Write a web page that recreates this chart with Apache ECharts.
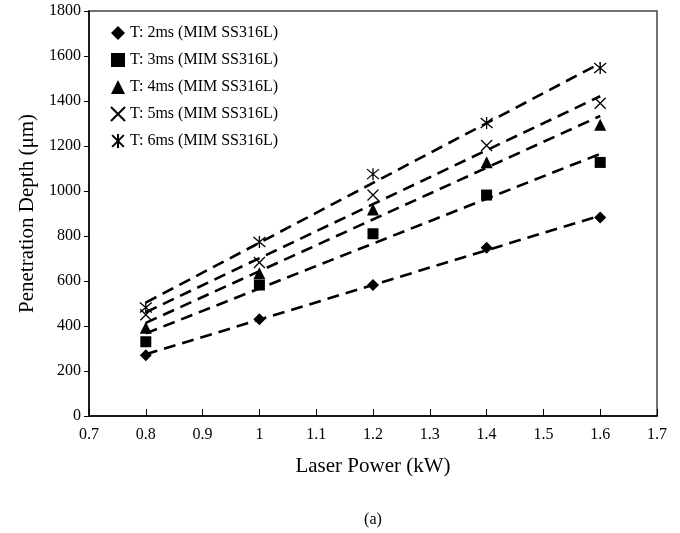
<!DOCTYPE html>
<html>
<head>
<meta charset="utf-8">
<script src="https://cdn.jsdelivr.net/npm/echarts@6/dist/echarts.min.js"></script>
<style>
html,body{margin:0;padding:0;background:#fff;}
#chart{width:680px;height:533px;}
</style>
</head>
<body>
<div id="chart"></div>
<script>
// Laser power (kW)
var laserPower = [0.8, 1.0, 1.2, 1.4, 1.6];
// Penetration depth (µm) for each pulse duration
var depthT2 = [270, 430, 582, 748, 882];
var depthT3 = [330, 582, 810, 982, 1127];
var depthT4 = [392, 635, 918, 1128, 1295];
var depthT5 = [450, 682, 982, 1202, 1390];
var depthT6 = [482, 773, 1075, 1302, 1547];
var seriesNames = [
  'T: 2ms (MIM SS316L)',
  'T: 3ms (MIM SS316L)',
  'T: 4ms (MIM SS316L)',
  'T: 5ms (MIM SS316L)',
  'T: 6ms (MIM SS316L)'
];
var xTicks = [0.7, 0.8, 0.9, 1, 1.1, 1.2, 1.3, 1.4, 1.5, 1.6, 1.7];
var yTicks = [0, 200, 400, 600, 800, 1000, 1200, 1400, 1600, 1800];

var allDepths = [depthT2, depthT3, depthT4, depthT5, depthT6];
var FONT = '"Liberation Serif", "DejaVu Serif", serif';

var crossPath = 'path://M0,0 L10,10 M10,0 L0,10';
var starPath = 'path://M0,0 L10,10 M10,0 L0,10 M5,-1 L5,11';
var symbols = ['diamond', 'rect', 'triangle', crossPath, starPath];
var sizes = [12, 11, 12, 11, 12];

// least-squares linear trendline from the data
function trend(xs, ys) {
  var n = xs.length, mx = 0, my = 0;
  for (var i = 0; i < n; i++) { mx += xs[i]; my += ys[i]; }
  mx /= n; my /= n;
  var sxy = 0, sxx = 0;
  for (var j = 0; j < n; j++) { sxy += (xs[j] - mx) * (ys[j] - my); sxx += (xs[j] - mx) * (xs[j] - mx); }
  var b = sxy / sxx, a = my - b * mx;
  var x0 = xs[0], x1 = xs[n - 1];
  return [[x0, a + b * x0], [x1, a + b * x1]];
}

var series = [];
allDepths.forEach(function (ys, k) {
  series.push({
    name: 'fit' + k,
    type: 'line',
    data: trend(laserPower, ys),
    showSymbol: false,
    symbol: 'none',
    silent: true,
    z: 2,
    lineStyle: { color: '#000', width: 2.6, type: [12, 7] }
  });
});
allDepths.forEach(function (ys, k) {
  var isStroke = k >= 3;
  series.push({
    name: seriesNames[k],
    type: 'scatter',
    data: laserPower.map(function (x, i) { return [x, ys[i]]; }),
    symbol: symbols[k],
    symbolSize: sizes[k],
    z: 5,
    itemStyle: isStroke
      ? { color: 'rgba(0,0,0,0)', borderColor: '#000', borderWidth: 1.3, opacity: 1 }
      : { color: '#000', borderWidth: 0, opacity: 1 }
  });
});

var chart = echarts.init(document.getElementById('chart'), null, { renderer: 'canvas' });
chart.setOption({
  animation: false,
  backgroundColor: '#fff',
  textStyle: { fontFamily: FONT, color: '#000' },
  grid: {
    left: 89, right: 23, top: 11, bottom: 117,
    show: true, borderColor: '#444', borderWidth: 1.5, backgroundColor: 'transparent'
  },
  legend: {
    orient: 'vertical',
    left: 110, top: 25,
    padding: 0,
    itemGap: 11,
    itemWidth: 14, itemHeight: 14,
    data: seriesNames,
    textStyle: { fontFamily: FONT, fontSize: 16, color: '#000' }
  },
  xAxis: {
    type: 'value',
    min: xTicks[0], max: xTicks[xTicks.length - 1], interval: 0.1,
    name: 'Laser Power (kW)',
    nameLocation: 'middle',
    nameGap: 40,
    nameTextStyle: { fontFamily: FONT, fontSize: 21, color: '#000' },
    axisLine: { lineStyle: { color: '#000', width: 1.5 } },
    axisTick: { inside: true, length: 7, lineStyle: { color: '#000' } },
    axisLabel: { fontFamily: FONT, fontSize: 16, color: '#000', margin: 11,
      formatter: function (v) { return String(Math.round(v * 10) / 10); } },
    splitLine: { show: false }
  },
  yAxis: {
    type: 'value',
    min: yTicks[0], max: yTicks[yTicks.length - 1], interval: 200,
    name: 'Penetration Depth (μm)',
    nameLocation: 'middle',
    nameGap: 48,
    nameTextStyle: { fontFamily: FONT, fontSize: 21, color: '#000' },
    axisLine: { show: true, lineStyle: { color: '#000', width: 1.5 } },
    axisTick: { show: true, inside: false, length: 5, lineStyle: { color: '#000' } },
    axisLabel: { fontFamily: FONT, fontSize: 16, color: '#000', margin: 8,
      formatter: function (v) { return String(v); } },
    splitLine: { show: false }
  },
  graphic: [{
    type: 'text',
    x: 373,
    y: 520,
    style: { text: '(a)', font: '16px ' + FONT, fill: '#000', align: 'center', verticalAlign: 'middle' }
  }],
  series: series
});
</script>
</body>
</html>
